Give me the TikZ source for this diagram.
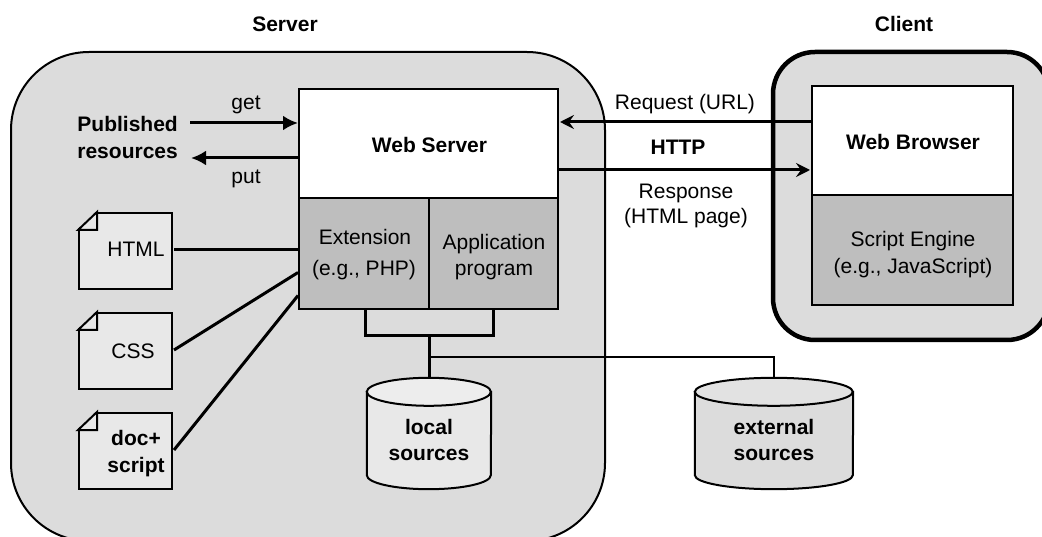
\documentclass[tikz,border=0pt]{standalone}
\usepackage{fontspec}
\setmainfont{Liberation Sans}
\usetikzlibrary{arrows.meta,calc}
\definecolor{srvfill}{gray}{0.863}
\definecolor{modfill}{gray}{0.745}
\definecolor{docfill}{gray}{0.91}
\definecolor{cyltop}{gray}{0.93}
\definecolor{exttop}{gray}{0.885}
\tikzset{
  container/.style={draw=black,fill=srvfill,rounded corners=#1},
  boxnode/.style={draw=black,line width=2pt,rectangle,inner sep=0pt},
  webbox/.style={boxnode,fill=white},
  modbox/.style={boxnode,fill=modfill},
  docbox/.style={draw=black,line width=2pt,fill=docfill,rectangle,inner sep=0pt,minimum width=93pt,minimum height=76pt},
  foldline/.style={draw=black,line width=2pt,fill=docfill,line join=miter},
  label/.style={inner sep=0pt,anchor=base,font=\fontsize{21}{26}\selectfont},
  blabel/.style={inner sep=0pt,anchor=base,font=\bfseries\fontsize{21}{26}\selectfont},
  conn/.style={draw=black,line width=3pt},
  thinconn/.style={draw=black,line width=2.5pt},
  bigarrow/.style={conn,-{Latex[length=15pt,width=15pt]}},
  barbarrow/.style={conn,-{Stealth[length=14pt,width=14pt,inset=5pt]},shorten >=1pt},
  storebox/.style={rectangle,inner sep=0pt,minimum width=#1,minimum height=111pt},
  storeline/.style={draw=black,line width=2pt}
}
% name, body fill, top fill
\newcommand{\storagedrum}[3]{%
  \path[storeline,fill=#2] ($(#1.north west)+(0,14)$) -- ($(#1.south west)+(0,-14)$)
     arc[start angle=180,end angle=360,x radius=\xrad,y radius=-14] -- ($(#1.north east)+(0,14)$) -- cycle;
  \path[storeline,fill=#3] ($(#1.north west)+(0,14)$) arc[start angle=180,end angle=0,x radius=\xrad,y radius=-14]
     arc[start angle=0,end angle=-180,x radius=\xrad,y radius=-14] -- cycle;
}
\begin{document}
\begin{tikzpicture}[x=1pt,y=-1pt]
\useasboundingbox (0,0) rectangle (1042,537);
\clip (0,0) rectangle (1042,537);
\fill[white] (0,0) rectangle (1042,537);
% containers
\draw[container=78pt,line width=2pt] (11,52) rectangle (605,541);
\draw[container=42pt,line width=4.5pt] (773,52) rectangle (1049,340);
% titles
\node[blabel] (srvt) at (285,32) {Server};
\node[blabel] (clit) at (904,32) {Client};
% server
\node[webbox,minimum width=259pt,minimum height=109pt] (ws) at (428.5,143.5) {};
\node[blabel] at (429.5,153) {Web Server};
\node[modbox,minimum width=130pt,minimum height=111pt] (ext) at (364,253.5) {};
\node[modbox,minimum width=129pt,minimum height=111pt] (app) at (493.5,253.5) {};
\node[label] at (365,245) {Extension};
\node[label] at (364,276) {(e.g., PHP)};
\node[label] at (494,250) {Application};
\node[label] at (494,276) {program};
% browser
\node[webbox,minimum width=201pt,minimum height=109pt] (wb) at (912.5,140.5) {};
\node[blabel] at (913,150) {Web Browser};
\node[modbox,minimum width=201pt,minimum height=110pt] (se) at (912.5,250) {};
\node[label] at (913,247) {Script Engine};
\node[label] at (913,274) {(e.g., JavaScript)};
% documents
\foreach \n/\y in {html/251,css/351,doc/451}{
  \node[docbox] (\n) at (125.5,\y) {};
  \fill[srvfill] ($(\n.north west)+(-1.5,-1.5)$) -- ++(20.5,0) -- ($(\n.north west)+(-1.5,18)$) -- cycle;
  \draw[foldline] ($(\n.north west)+(0,18)$) -- ($(\n.north west)+(19,0)$) -- ($(\n.north west)+(19,18)$) -- cycle;
}
\node[label] (htmlt) at (136,257) {HTML};
\node[label] (csst) at (133,359) {CSS};
\node[blabel] (doct) at (136,445) {doc+};
\node[blabel] (scrt) at (136,472) {script};
% published
\node[blabel,anchor=base east] (pub1) at (178,132) {Published};
\node[blabel,anchor=base east] (pub2) at (178,159) {resources};
\node[label] (gettx) at (246,110) {get};
\node[label] (puttx) at (246,184) {put};
\coordinate (getS) at (190,123);
\coordinate (putE) at (191,158);
\draw[bigarrow] (getS) -- (ws.west |- getS);
\draw[bigarrow] (ws.west |- putE) -- (putE);
% doc connectors
\draw[conn] (174,250) -- (ext.west |- 0,250);
\draw[conn] ($(css.east)+(1,-1)$) -- ($(ext.west)+(0,19)$);
\draw[conn] ($(doc.east)+(1,-1)$) -- ($(ext.west)+(0,42)$);
% cylinders
\node[storebox=124pt] (local) at (429,433.5) {};
\node[storebox=158pt] (extern) at (774,433.5) {};
\def\xrad{62}
\storagedrum{local}{docfill}{cyltop}
\def\xrad{79}
\storagedrum{extern}{srvfill}{exttop}
\node[blabel] (l1) at (429,434) {local};
\node[blabel] (l2) at (429,460) {sources};
\node[blabel] (e1) at (774,434) {external};
\node[blabel] (e2) at (774,460) {sources};
% bracket
\coordinate (bl) at (365,336);
\coordinate (br) at (493,336);
\coordinate (bm) at (429,336);
\coordinate (j) at (429,357);
\draw[conn] (ext.south -| bl) -- (bl) -- (br) -- (ext.south -| br);
\draw[conn] (bm) -- (local.north);
\draw[thinconn] (j) -- (j -| extern.north) -- (extern.north);
% http
\coordinate (reqY) at (0,122);
\coordinate (resY) at (0,170);
\draw[barbarrow] (wb.west |- reqY) -- (ws.east |- reqY);
\draw[barbarrow] (ws.east |- resY) -- (wb.west |- resY);
\node[label] (req) at (685,110) {Request (URL)};
\node[blabel] (http) at (678,155) {HTTP};
\node[label] (resp1) at (686,199) {Response};
\node[label] (resp2) at (686,224) {(HTML page)};
\end{tikzpicture}
\end{document}
